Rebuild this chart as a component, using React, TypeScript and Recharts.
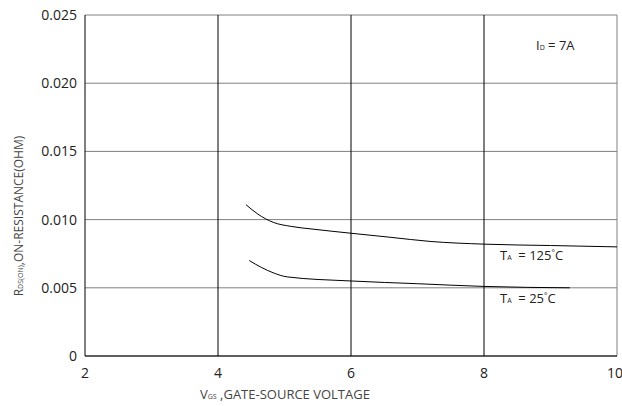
import React from 'react';
import {
    LineChart,
    Line,
    XAxis,
    YAxis,
    CartesianGrid,
    ReferenceLine
} from 'recharts';

// Vgs (V) vs Rds(on) (ohm)
const vgsHot = [4.42, 4.6, 4.83, 5.1, 5.43, 6, 6.6, 7.19, 8, 9, 10];
const rdsHot = [0.0111, 0.0104, 0.0098, 0.0095, 0.0093, 0.009, 0.0087, 0.0084, 0.0082, 0.0081, 0.008];

const vgsRoom = [4.47, 4.65, 4.83, 5.04, 6, 7, 8, 9.29];
const rdsRoom = [0.007, 0.0065, 0.0061, 0.0058, 0.0055, 0.0053, 0.0051, 0.005];

const xTicks = [2, 4, 6, 8, 10];
const yTicks = [0, 0.005, 0.01, 0.015, 0.02, 0.025];
const vLines = [4, 6, 8];

const hotData = vgsHot.map((x, i) => ({ x, y: rdsHot[i] }));
const roomData = vgsRoom.map((x, i) => ({ x, y: rdsRoom[i] }));

const FONT = '"Open Sans", sans-serif';
const sub: React.CSSProperties = { fontSize: 7, verticalAlign: 'baseline' };

export default function App() {
    return (
        <div style={{ position: 'absolute', left: 0, top: 0, width: 622, height: 406, background: '#fff', fontFamily: FONT }}>
            <LineChart width={622} height={406} margin={{ top: 15, right: 5, bottom: 0, left: 0 }}>
                <CartesianGrid vertical={false} stroke="#808080" strokeWidth={1} />
                <XAxis
                    type="number"
                    dataKey="x"
                    domain={[2, 10]}
                    ticks={xTicks}
                    allowDataOverflow
                    height={50}
                    tickLine={false}
                    axisLine={{ stroke: '#000' }}
                    tick={{ fill: '#222', fontSize: 14, fontFamily: FONT }}
                    tickMargin={6}
                    tickFormatter={(v) => String(v)}
                />
                <YAxis
                    type="number"
                    dataKey="y"
                    domain={[0, 0.025]}
                    ticks={yTicks}
                    width={85}
                    tickLine={false}
                    axisLine={{ stroke: '#000' }}
                    tick={{ fill: '#222', fontSize: 14, fontFamily: FONT }}
                    tickMargin={2}
                    tickFormatter={(v) => (v === 0 ? '0' : v.toFixed(3))}
                />
                {vLines.map((v) => (
                    <ReferenceLine key={v} x={v} stroke="#000" strokeWidth={1} />
                ))}
                <ReferenceLine x={10} stroke="#808080" strokeWidth={1} />
                <Line data={hotData} dataKey="y" type="monotone" stroke="#000" strokeWidth={1} dot={false} isAnimationActive={false} />
                <Line data={roomData} dataKey="y" type="monotone" stroke="#000" strokeWidth={1} dot={false} isAnimationActive={false} />
            </LineChart>

            <div style={{ position: 'absolute', left: 536, top: 36, fontSize: 13, color: '#222' }}>
                I<span style={sub}>D</span> = 7A
            </div>
            <div style={{ position: 'absolute', left: 500, top: 246, fontSize: 13, color: '#222' }}>
                T<span style={sub}>A</span>&nbsp; = 125<sup style={{ fontSize: 8 }}>°</sup>C
            </div>
            <div style={{ position: 'absolute', left: 500, top: 289, fontSize: 13, color: '#222' }}>
                T<span style={sub}>A</span>&nbsp; = 25<sup style={{ fontSize: 8 }}>°</sup>C
            </div>
            <div style={{ position: 'absolute', left: 200, top: 385, fontSize: 13, color: '#444', whiteSpace: 'nowrap' }}>
                V<span style={sub}>GS</span> ,GATE-SOURCE VOLTAGE
            </div>
            <div
                style={{
                    position: 'absolute',
                    left: 18,
                    top: 216,
                    fontSize: 12,
                    color: '#444',
                    whiteSpace: 'nowrap',
                    transform: 'translate(-50%, -50%) rotate(-90deg)'
                }}
            >
                R<span style={sub}>DS(ON)</span>,ON-RESISTANCE(OHM)
            </div>
        </div>
    );
}
